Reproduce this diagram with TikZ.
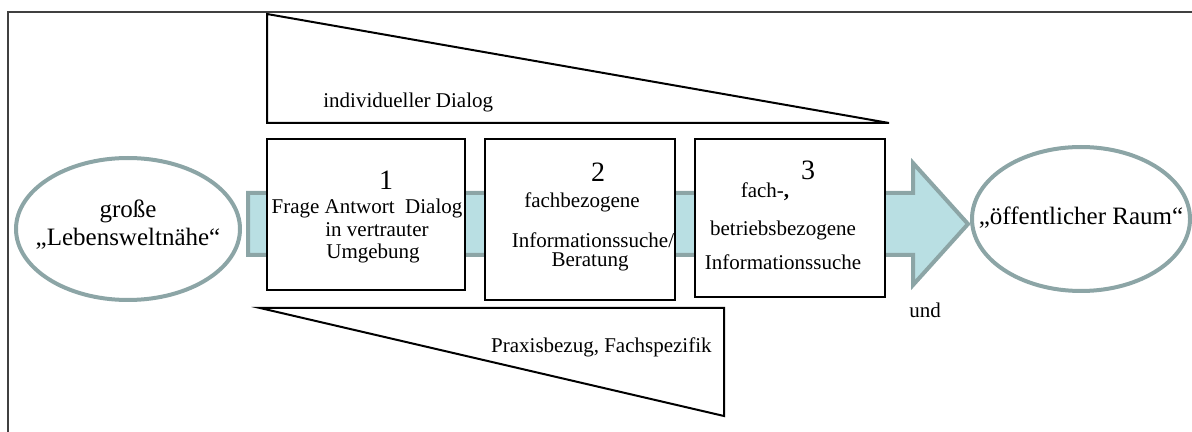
\documentclass[tikz,border=0pt]{standalone}
\usepackage{fontspec}
\setmainfont{Liberation Serif}
\definecolor{bandfill}{HTML}{B9DFE3}
\definecolor{bandline}{HTML}{8CA5A6}
\begin{document}
\begin{tikzpicture}[x=0.5pt,y=-0.5pt,
        stagebox/.style={draw,line width=1pt,fill=white,inner sep=0pt},
        bubble/.style={draw=bandline,line width=2pt,fill=white,inner sep=0pt},
        band/.style={draw=bandline,line width=2pt,fill=bandfill,line join=miter},
        wedge/.style={draw,line width=1pt,fill=white},
        txt/.style={inner sep=0pt,font=\fontsize{10.5}{12.5}\selectfont},
        bigtxt/.style={inner sep=0pt,align=center,font=\fontsize{12.5}{14}\selectfont},
        num/.style={inner sep=0pt,font=\fontsize{14}{16}\selectfont}]
        \useasboundingbox (0,0) rectangle (1192,432);
        % Frame
        \draw[line width=1pt,black!75] (8,432) -- (8,12) -- (1192,12);

        % Wedges
        \draw[wedge] (267,14) -- (889,123) -- (267,123) -- cycle;
        \node[txt,anchor=west] (dialog) at (323,102) {individueller Dialog};
        \draw[wedge] (260,308) -- (724,308) -- (724,416) -- cycle;
        \node[txt,anchor=east] (praxis) at (712,347) {Praxisbezug, Fachspezifik};
        \node[txt] (und) at (925,310) {und};

        % Arrow band
        \draw[band] (248,193) -- (913,193) -- (913,163) -- (968,224)
            -- (913,285) -- (913,255) -- (248,255) -- cycle;

        % Ellipses
        \draw[bubble] (128,229) ellipse (112 and 71);
        \node[bigtxt] (nah) at (128,225) {große\\„Lebensweltnähe“};
        \draw[bubble] (1081,219) ellipse (109 and 72);
        \node[bigtxt] (raum) at (1081,218) {„öffentlicher Raum“};

        % Stages
        \node[stagebox,minimum width=99pt,minimum height=75.5pt] (s1) at (366,214.5) {};
        \node[stagebox,minimum width=95pt,minimum height=80.5pt] (s2) at (580,219.5) {};
        \node[stagebox,minimum width=95pt,minimum height=79pt] (s3) at (790,218) {};

        \node[num] (n1) at (386,180) {1};
        \node[txt] (s1a) at (367,208) {Frage Antwort\ \ Dialog};
        \node[txt] (s1b) at (377,230) {in vertrauter};
        \node[txt] (s1c) at (373,253) {Umgebung};

        \node[num] (n2) at (598,172) {2};
        \node[txt] (s2a) at (582,202) {fachbezogene};
        \node[txt] (s2b) at (593,240) {Informationssuche/};
        \node[txt] (s2c) at (590,262) {Beratung};

        \node[num] (n3) at (808,170) {3};
        \node[txt] (s3a) at (765,192) {fach-\textbf{,}};
        \node[txt] (s3b) at (783,230) {betriebsbezogene};
        \node[txt] (s3c) at (783,262) {Informationssuche};
\end{tikzpicture}
\end{document}
